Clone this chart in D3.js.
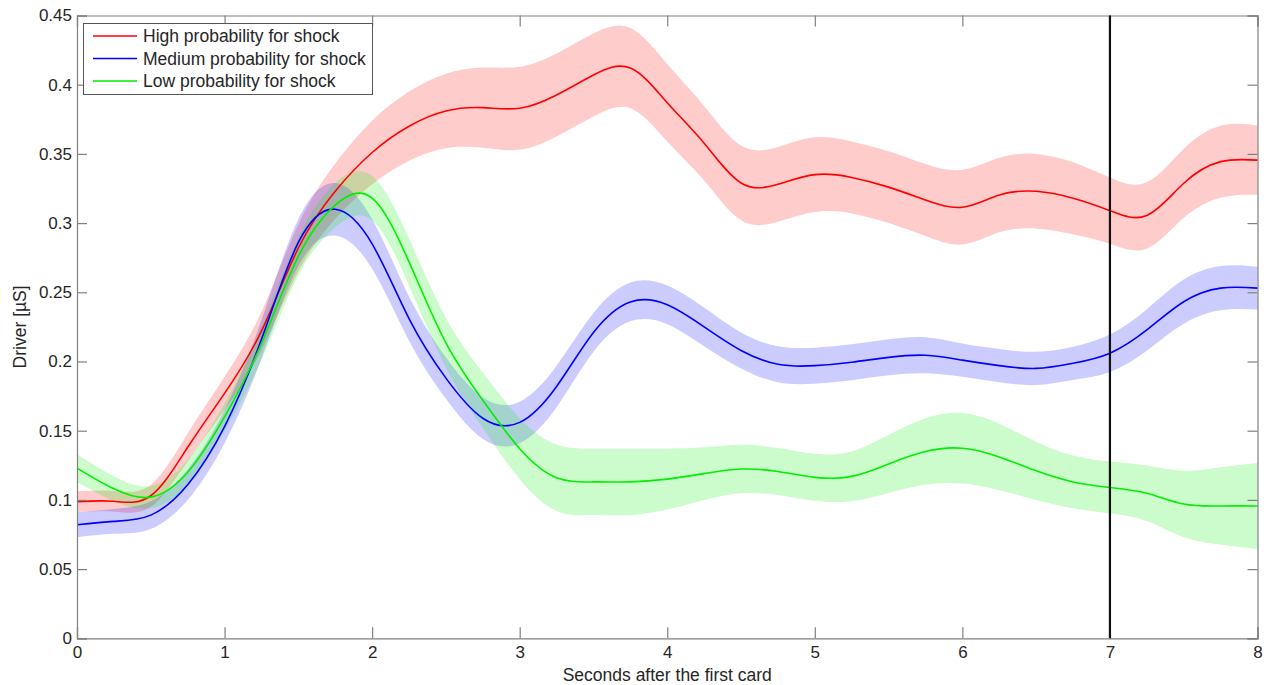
<!DOCTYPE html>
<html>
<head>
<meta charset="utf-8">
<script src="https://cdn.jsdelivr.net/npm/d3@7"></script>
<style>
  html, body { margin: 0; padding: 0; background: #fff; }
  svg { display: block; font-family: "Liberation Sans", Arial, Helvetica, sans-serif; }
</style>
</head>
<body>
<svg id="chart" width="1270" height="685"></svg>
<script>
// Time grid (seconds after the first card)
const seconds = d3.range(0, 8.0001, 0.25);

// Mean driver amplitude per condition [µS]
const highMean = [0.0987, 0.0990, 0.103, 0.138, 0.177, 0.222, 0.282, 0.323, 0.351, 0.370, 0.381, 0.3834, 0.383,
  0.3926, 0.407, 0.412, 0.387, 0.3577, 0.329, 0.328, 0.335, 0.333, 0.326, 0.3167, 0.3115, 0.3203, 0.323,
  0.318, 0.309, 0.3055, 0.3288, 0.3444, 0.3455];
const mediumMean = [0.082, 0.0845, 0.089, 0.111, 0.153, 0.216, 0.286, 0.31, 0.285, 0.231, 0.188, 0.159, 0.156,
  0.182, 0.221, 0.243, 0.241, 0.225, 0.208, 0.198, 0.197, 0.1995, 0.203, 0.2045, 0.201, 0.197, 0.195,
  0.1987, 0.206, 0.2228, 0.2432, 0.253, 0.253];
const lowMean = [0.123, 0.108, 0.102, 0.120, 0.160, 0.213, 0.276, 0.313, 0.318, 0.272, 0.2135, 0.172, 0.137,
  0.116, 0.113, 0.113, 0.115, 0.119, 0.1223, 0.1205, 0.1163, 0.117, 0.126, 0.135, 0.1373, 0.131, 0.121,
  0.113, 0.109, 0.1048, 0.097, 0.0956, 0.0956];

// Standard error (half-width of the shaded band)
const highErr = [0.0075, 0.0075, 0.008, 0.010, 0.012, 0.014, 0.017, 0.020, 0.023, 0.025, 0.027, 0.029, 0.030,
  0.030, 0.030, 0.029, 0.028, 0.027, 0.027, 0.027, 0.027, 0.026, 0.026, 0.026, 0.027, 0.027, 0.027,
  0.026, 0.024, 0.024, 0.025, 0.026, 0.025];
const mediumErr = [0.009, 0.009, 0.010, 0.011, 0.012, 0.014, 0.017, 0.019, 0.018, 0.016, 0.015, 0.015, 0.015,
  0.015, 0.014, 0.014, 0.014, 0.014, 0.013, 0.013, 0.013, 0.013, 0.013, 0.013, 0.012, 0.012, 0.012,
  0.012, 0.0135, 0.015, 0.016, 0.016, 0.0155];
const lowErr = [0.010, 0.009, 0.008, 0.009, 0.010, 0.012, 0.014, 0.016, 0.016, 0.017, 0.018, 0.020, 0.022,
  0.024, 0.024, 0.024, 0.022, 0.019, 0.0175, 0.017, 0.017, 0.018, 0.021, 0.024, 0.0255, 0.024, 0.021,
  0.019, 0.0187, 0.020, 0.024, 0.028, 0.031];

const seriesNames = ["High probability for shock", "Medium probability for shock", "Low probability for shock"];
const seriesColors = ["#ff0000", "#0000ff", "#00ee00"];
const seriesMeans = [highMean, mediumMean, lowMean];
const seriesErrs = [highErr, mediumErr, lowErr];

const xTicks = [0, 1, 2, 3, 4, 5, 6, 7, 8];
const yTicks = [0, 0.05, 0.1, 0.15, 0.2, 0.25, 0.3, 0.35, 0.4, 0.45];
const markerTime = 7;

const svg = d3.select("#chart");
const plotLeft = 77, plotRight = 1257.5, plotTop = 15.5, plotBottom = 638.3;

const x = d3.scaleLinear().domain([0, 8]).range([plotLeft, plotRight]);
const y = d3.scaleLinear().domain([0, 0.45]).range([plotBottom, plotTop]);

const curve = d3.curveNatural;

// Shaded error bands
seriesMeans.forEach((m, i) => {
  const e = seriesErrs[i];
  const pts = seconds.map((t, k) => ({ t, lo: m[k] - e[k], hi: m[k] + e[k] }));
  svg.append("path")
    .datum(pts)
    .attr("fill", seriesColors[i])
    .attr("fill-opacity", 0.2)
    .attr("stroke", "none")
    .attr("d", d3.area().curve(curve).x(d => x(d.t)).y0(d => y(d.lo)).y1(d => y(d.hi)));
});

// Mean lines
seriesMeans.forEach((m, i) => {
  const pts = seconds.map((t, k) => ({ t, v: m[k] }));
  svg.append("path")
    .datum(pts)
    .attr("fill", "none")
    .attr("stroke", seriesColors[i])
    .attr("stroke-width", 1.6)
    .attr("d", d3.line().curve(curve).x(d => x(d.t)).y(d => y(d.v)));
});

// Axes with inward ticks on all four sides
const axisColor = "#808080";
const fmt = d => String(+d.toFixed(2));

const gx = svg.append("g").attr("transform", `translate(0,${plotBottom})`)
  .call(d3.axisBottom(x).tickValues(xTicks).tickSize(-11).tickPadding(8).tickFormat(fmt));
const gxt = svg.append("g").attr("transform", `translate(0,${plotTop})`)
  .call(d3.axisTop(x).tickValues(xTicks).tickSize(-11).tickFormat(""));
const gy = svg.append("g").attr("transform", `translate(${plotLeft},0)`)
  .call(d3.axisLeft(y).tickValues(yTicks).tickSize(-10).tickPadding(5).tickFormat(fmt));
const gyr = svg.append("g").attr("transform", `translate(${plotRight},0)`)
  .call(d3.axisRight(y).tickValues(yTicks).tickSize(-10).tickFormat(""));

[gx, gxt, gy, gyr].forEach(g => {
  g.select(".domain").attr("stroke", axisColor).attr("stroke-width", 1.2);
  g.selectAll(".tick line").attr("stroke", axisColor).attr("stroke-width", 1.2);
  g.selectAll(".tick text").attr("fill", "#262626").style("font-size", "17px")
    .style("font-family", "'Liberation Sans', Arial, sans-serif");
});

// Vertical marker at 7 s
svg.append("line")
  .attr("x1", x(markerTime)).attr("x2", x(markerTime))
  .attr("y1", y(0.45)).attr("y2", y(0))
  .attr("stroke", "#111").attr("stroke-width", 2.2);

// Axis titles
svg.append("text")
  .attr("x", (plotLeft + plotRight) / 2).attr("y", 681)
  .attr("text-anchor", "middle").attr("fill", "#262626").style("font-size", "17.5px")
  .text("Seconds after the first card");
svg.append("text")
  .attr("transform", `translate(26,${(plotTop + plotBottom) / 2}) rotate(-90)`)
  .attr("text-anchor", "middle").attr("fill", "#262626").style("font-size", "17.5px")
  .text("Driver [µS]");

// Legend
const lg = svg.append("g");
lg.append("rect")
  .attr("x", 83.5).attr("y", 23.5).attr("width", 289).attr("height", 71)
  .attr("fill", "#fff").attr("stroke", "#555").attr("stroke-width", 1);
seriesNames.forEach((name, i) => {
  const cy = 36 + i * 22.5;
  lg.append("line").attr("x1", 93).attr("x2", 137).attr("y1", cy).attr("y2", cy)
    .attr("stroke", seriesColors[i]).attr("stroke-width", 1.6);
  lg.append("text").attr("x", 143).attr("y", cy + 6)
    .attr("fill", "#262626").style("font-size", "17.5px").text(name);
});
</script>
</body>
</html>
